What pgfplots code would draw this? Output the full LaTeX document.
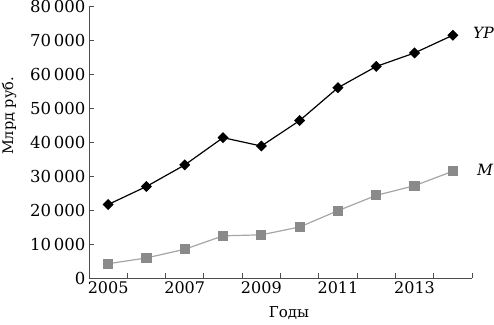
\documentclass[border=0pt]{standalone}
\usepackage{fontspec}
\setmainfont{DejaVu Serif}
\usepackage{pgfplots}
\pgfplotsset{compat=1.18}
\definecolor{mgray}{HTML}{8A8A8A}
\definecolor{lgray}{HTML}{A6A6A6}
\begin{document}
\begin{tikzpicture}
\begin{axis}[
  name=ax,
  scale only axis, width=383pt, height=272pt,
  xmin=2004.5, xmax=2014.5, ymin=0, ymax=80000,
  axis lines=left, axis line style={-, black!70, line width=0.9pt},
  clip=false,
  xtick={2005,2007,2009,2011,2013},
  minor xtick={2004.5,2005.5,...,2014.5},
  major x tick style={draw=none},
  minor tick length=5pt, major tick length=5pt,
  tick align=inside,
  tick style={black!70, line width=0.9pt},
  ytick={0,10000,...,80000},
  scaled y ticks=false,
  xticklabel style={/pgf/number format/1000 sep={}, font=\fontsize{16}{19}\selectfont},
  yticklabel style={/pgf/number format/1000 sep={\,}, font=\fontsize{16.5}{19}\selectfont},
  /pgf/number format/assume math mode=true,
]
\addplot[black, line width=1.2pt, mark=square*, mark size=3.3pt, mark options={solid, fill=black, rotate=45}]
coordinates {(2005,21610) (2006,26917) (2007,33248) (2008,41277) (2009,38807)
 (2010,46309) (2011,55967) (2012,62218) (2013,66194) (2014,71406)};
\addplot[lgray, line width=1.2pt, mark=square*, mark size=4.5pt, mark options={solid, draw=mgray, fill=mgray}]
coordinates {(2005,4200) (2006,5900) (2007,8450) (2008,12400) (2009,12700)
 (2010,15000) (2011,19800) (2012,24300) (2013,27150) (2014,31400)};
\node[anchor=west, inner sep=0pt, font=\itshape\fontsize{15.5}{18}\selectfont] at ([xshift=1pt]axis cs:2014.5,72000) {YP};
\node[anchor=west, inner sep=0pt, font=\itshape\fontsize{15.5}{18}\selectfont] at ([xshift=5pt]axis cs:2014.5,31800) {M};
\node[font=\fontsize{14.5}{17}\selectfont, xshift=-80pt, rotate=90] at (rel axis cs:0,0.596) {Млрд руб.};
\node[font=\fontsize{15}{17}\selectfont, yshift=-35pt] at (rel axis cs:0.522,0) {Годы};
\end{axis}
\pgfresetboundingbox
\path[use as bounding box] ([xshift=-89pt,yshift=-46pt]ax.south west) rectangle ([xshift=405pt,yshift=278pt]ax.south west);
\end{tikzpicture}
\end{document}
